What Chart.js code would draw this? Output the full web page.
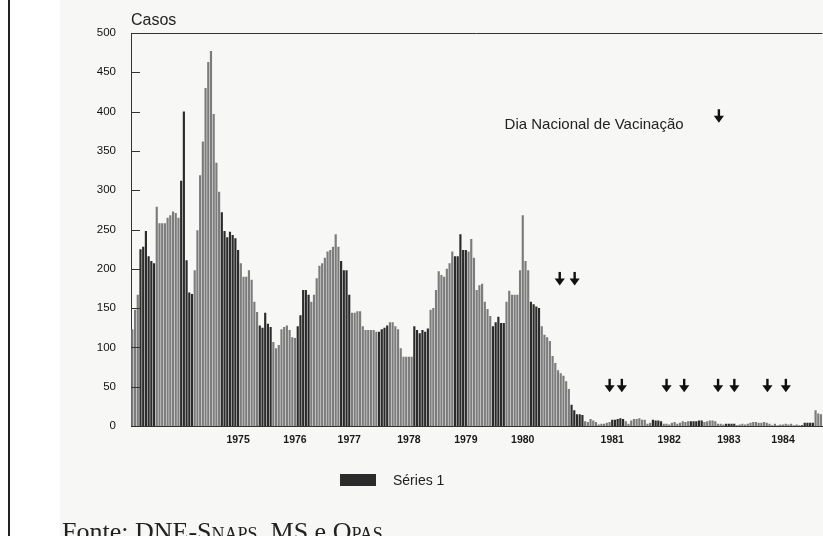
<!DOCTYPE html>
<html>
<head>
<meta charset="utf-8">
<script src="https://cdn.jsdelivr.net/npm/chart.js@4.4.1/dist/chart.umd.min.js"></script>
<style>
html, body { margin: 0; padding: 0; background: #fff; overflow: hidden; }
#papel { position: absolute; left: 60px; top: 0; width: 763px; height: 536px; background: #f7f7f6; }
#borda { position: absolute; left: 8px; top: 0; width: 2px; height: 536px; background: #222; }
#wrap { position: absolute; left: 0; top: 0; width: 829px; height: 536px; }
#fonte { position: absolute; left: 62px; top: 519px; font-family: 'Liberation Serif', 'Times New Roman', serif; font-size: 26px; line-height: 1; color: #222; white-space: nowrap; }
.sc { font-variant: small-caps; }
</style>
</head>
<body>
<div id="papel"></div>
<div id="borda"></div>
<div id="wrap"><canvas id="grafico"></canvas></div>
<div id="fonte">Fonte: DNE-<span class="sc">Snaps</span>, MS e <span class="sc">Opas</span></div>
<script>
// casos por periodo (leitura aproximada do grafico original, 1974-1984)
const casos = [
    123, 148, 167, 225, 228, 248, 216, 210, 207, 279,
    258, 258, 258, 265, 268, 273, 271, 265, 312, 400,
    211, 170, 168, 198, 249, 319, 362, 430, 463, 477,
    397, 335, 298, 272, 248, 240,
    247, 243, 239, 224, 207, 190, 190, 198, 186, 158, 145,
    128, 125, 144, 130, 126, 107, 99, 103, 123, 126, 128, 122, 113, 112,
    127, 141, 173, 173, 167, 158, 167, 188, 204, 207,
    214, 222, 224, 228, 244, 228, 210, 198, 198, 167,
    144, 144, 146, 146, 127, 122, 122, 122, 122, 120,
    120, 123, 125, 128, 132, 132, 127, 123, 99, 88, 88, 88, 88,
    127, 122, 118, 122,
    120, 124, 148, 150, 173, 197, 192, 190, 200, 207, 222,
    216, 216, 244, 224, 224, 222, 238, 214, 173, 179, 181, 158, 149, 140,
    127, 132, 139, 131, 131, 158, 172, 167, 167,
    167, 198, 268, 210, 198, 158, 155, 152, 150,
    127, 116, 113, 108, 89, 80, 71, 67, 64, 57, 47,
    27, 20, 15, 15, 14, 6, 5, 9, 7, 5,
    2, 3, 3, 4, 5, 8, 8, 9, 10, 9, 6, 3, 7, 9, 9, 10, 8, 8, 3, 4,
    8, 7, 7, 6, 3, 3, 2, 4, 5, 3, 4, 6, 5, 6, 6, 6, 6, 7, 7,
    5, 6, 7, 7, 6, 3, 3, 2, 3, 3, 3, 3, 1, 2, 3, 2,
    3, 4, 5, 5, 4, 4, 5, 4, 3, 1, 3, 1, 2, 2, 3, 2, 3, 1, 2, 1,
    1, 4, 4, 4, 4, 20, 16, 15
];

const anos = ['1975', '1976', '1977', '1978', '1979', '1980', '1981', '1982', '1983', '1984'];
const anosPeriodo = [39, 60, 80, 102, 123, 144, 177, 198, 220, 240];

// dias nacionais de vacinacao (periodo, altura em casos)
const diasPeriodo = [157.6, 163.1, 176, 180.5, 197, 203.5, 216, 222, 234.2, 241];
const diasCasos = [196, 196, 60, 60, 60, 60, 60, 60, 60, 60];

// faixas escuras da impressao
const faixasEscuras = [[3, 8], [18, 22], [33, 39], [47, 51], [61, 65], [77, 80], [91, 94],
    [104, 109], [119, 123], [133, 137], [147, 150], [162, 166], [177, 181], [192, 195],
    [206, 210], [219, 222], [247, 251]];

const periodos = casos.map((v, i) => {
    const k = anosPeriodo.indexOf(i);
    return k >= 0 ? anos[k] : '';
});

const cores = casos.map((v, i) =>
    faixasEscuras.some(f => i >= f[0] && i <= f[1]) ? '#2b2b2b' : '#7c7c7c');

const FONTE = '"Liberation Sans", Arial, Helvetica, sans-serif';

function seta(ctx, cx, topo) {
    ctx.fillStyle = '#111';
    ctx.fillRect(cx - 1.1, topo, 2.4, 8);
    ctx.beginPath();
    ctx.moveTo(cx - 5, topo + 6.5);
    ctx.lineTo(cx + 5.2, topo + 6.5);
    ctx.lineTo(cx + 0.1, topo + 13.5);
    ctx.closePath();
    ctx.fill();
}

const decoracao = {
    id: 'decoracao',
    afterDraw(chart) {
        const ctx = chart.ctx;
        const a = chart.chartArea;
        const x = chart.scales.x;
        const y = chart.scales.y;
        ctx.save();

        ctx.strokeStyle = '#333';
        ctx.lineWidth = 1;
        ctx.beginPath();
        ctx.moveTo(a.left, Math.round(a.top) + 0.5);
        ctx.lineTo(a.right, Math.round(a.top) + 0.5);
        ctx.stroke();

        y.ticks.forEach(t => {
            if (t.value === 0 || t.value === 500) return;
            const py = Math.round(y.getPixelForValue(t.value)) + 0.5;
            ctx.beginPath();
            ctx.moveTo(a.left, py);
            ctx.lineTo(a.left + 9, py);
            ctx.stroke();
        });

        ctx.fillStyle = '#222';
        ctx.font = '16px ' + FONTE;
        ctx.textBaseline = 'alphabetic';
        ctx.textAlign = 'left';
        ctx.fillText('Casos', a.left, a.top - 8);

        ctx.font = '15px ' + FONTE;
        ctx.textBaseline = 'middle';
        ctx.fillText('Dia Nacional de Vacinação', x.getPixelForValue(137.3), y.getPixelForValue(383));
        seta(ctx, x.getPixelForValue(216.3), y.getPixelForValue(403));

        diasPeriodo.forEach((p, i) => seta(ctx, x.getPixelForValue(p), y.getPixelForValue(diasCasos[i])));

        // legenda
        ctx.fillStyle = '#2b2b2b';
        ctx.fillRect(340, 474, 36, 12);
        ctx.fillStyle = '#222';
        ctx.font = '14px ' + FONTE;
        ctx.textBaseline = 'middle';
        ctx.fillText('Séries 1', 393, 481);
        ctx.restore();
    }
};

new Chart(document.getElementById('grafico'), {
    type: 'bar',
    data: {
        labels: periodos,
        datasets: [{
            label: 'Séries 1',
            data: casos,
            backgroundColor: cores,
            borderWidth: 0,
            barPercentage: 0.8,
            categoryPercentage: 1.0
        }]
    },
    options: {
        responsive: true,
        maintainAspectRatio: false,
        animation: false,
        layout: { padding: { top: 33, right: 0, bottom: 82, left: 0 } },
        scales: {
            x: {
                grid: { display: false, drawTicks: false },
                border: { display: true, color: '#333', width: 1 },
                ticks: {
                    autoSkip: false,
                    maxRotation: 0,
                    padding: 8,
                    color: '#1a1a1a',
                    font: { family: FONTE, size: 10.5, weight: 'bold' }
                },
                afterFit: s => { s.height = 28; }
            },
            y: {
                min: 0,
                max: 500,
                grid: { display: false, drawTicks: false },
                border: { display: true, color: '#333', width: 1 },
                ticks: {
                    stepSize: 50,
                    padding: 15,
                    color: '#111',
                    font: { family: FONTE, size: 11.5 }
                },
                afterFit: s => { s.width = 131; }
            }
        },
        plugins: {
            legend: { display: false },
            tooltip: { enabled: false }
        }
    },
    plugins: [decoracao]
});
</script>
</body>
</html>
